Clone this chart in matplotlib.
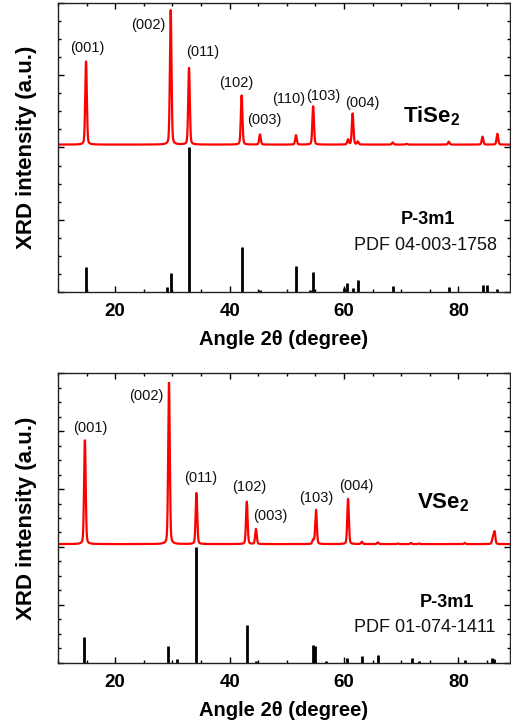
import numpy as np
import matplotlib
matplotlib.use('Agg')
import matplotlib.pyplot as plt
from matplotlib.ticker import MultipleLocator

plt.rcParams['font.family'] = ['Liberation Sans', 'DejaVu Sans']
plt.rcParams['mathtext.fontset'] = 'custom'
plt.rcParams['mathtext.rm'] = 'Liberation Sans'
plt.rcParams['mathtext.bf'] = 'Liberation Sans:bold'

# --- TiSe2: measured pattern (peak angle, peak top in axis units) ---
tise2_base = 2.04
tise2_pos = [14.9, 29.7, 32.9, 42.1, 45.3, 51.6, 54.6, 60.7, 61.5, 62.4, 68.5, 70.9, 78.3, 84.2, 86.8]
tise2_top = [3.19, 3.90, 3.10, 2.72, 2.18, 2.17, 2.57, 2.11, 2.47, 2.08, 2.07, 2.05, 2.08, 2.15, 2.19]
# reference card PDF 04-003-1758
tise2_ref_pos = [14.9, 29.0, 29.7, 32.9, 42.1, 45.3, 51.6, 54.1, 54.6, 60.0, 60.6, 61.5, 62.4,
                 68.5, 78.3, 84.2, 84.9, 86.8]
tise2_ref_int = [0.35, 0.07, 0.26, 2.0, 0.62, 0.03, 0.36, 0.03, 0.27, 0.05, 0.12, 0.05, 0.17,
                 0.08, 0.07, 0.09, 0.09, 0.04]
tise2_hkl = ['(001)', '(002)', '(011)', '(102)', '(003)', '(110)', '(103)', '(004)']

# --- VSe2 ---
vse2_base = 2.05
vse2_pos = [14.7, 29.4, 34.2, 43.0, 44.6, 54.6, 55.1, 60.7, 63.1, 65.9, 69.4, 71.7, 73.1, 81.1, 86.0, 86.3]
vse2_top = [3.84, 4.83, 2.93, 2.78, 2.31, 2.12, 2.64, 2.83, 2.09, 2.08, 2.06, 2.07, 2.06, 2.07, 2.15, 2.26]
# reference card PDF 01-074-1411
vse2_ref_pos = [14.6, 29.2, 30.8, 34.2, 43.0, 44.6, 54.6, 55.0, 56.8, 60.6, 63.1, 65.9,
                71.8, 73.1, 81.1, 85.9, 86.2]
vse2_ref_int = [0.45, 0.29, 0.07, 2.0, 0.66, 0.04, 0.31, 0.29, 0.03, 0.09, 0.12, 0.14,
                0.09, 0.03, 0.05, 0.09, 0.07]
vse2_hkl = ['(001)', '(002)', '(011)', '(102)', '(003)', '(103)', '(004)']

# label placements (angle, y) for the hkl tags
tise2_lbl_xy = [(15.1, 3.37), (25.7, 3.69), (35.3, 3.32), (41.1, 2.89), (46.0, 2.38),
                (50.3, 2.67), (56.3, 2.71), (63.2, 2.61)]
vse2_lbl_xy = [(15.6, 4.05), (25.4, 4.60), (35.0, 3.19), (43.4, 3.03), (47.1, 2.53),
               (55.1, 2.84), (62.2, 3.05)]


def profile(x, pos, top, base, w=0.14):
    y = np.full_like(x, base)
    for p, t in zip(pos, top):
        h = t - base
        g = np.exp(-0.5 * ((x - p) / w) ** 2)
        l = 1.0 / (1.0 + ((x - p) / (1.2 * w)) ** 2)
        y += h * (0.75 * g + 0.25 * l)
    return y


def panel(ax, pos, top, base, ref_pos, ref_int, hkl, lbl_xy, ymax,
          name, name_xy, card, sg_xy, card_xy):
    x = np.arange(10, 89.01, 0.02)
    ax.plot(x, profile(x, pos, top, base), color='red', lw=1.6)
    ax.vlines(ref_pos, 0, ref_int, color='black', lw=2)
    for t, (lx, ly) in zip(hkl, lbl_xy):
        ax.text(lx, ly, t, fontsize=10.5, ha='center', va='center', color='#111111')
    ax.text(name_xy[0], name_xy[1], name, fontsize=16, fontweight='bold',
            ha='center', va='center')
    ax.text(sg_xy[0], sg_xy[1], 'P-3m1', fontsize=13, fontweight='bold',
            ha='center', va='center')
    ax.text(card_xy[0], card_xy[1], card, fontsize=13, ha='center', va='center',
            color='#111111')
    ax.set_xlim(10, 89)
    ax.set_ylim(0, ymax)
    ax.xaxis.set_major_locator(MultipleLocator(20))
    ax.xaxis.set_minor_locator(MultipleLocator(5))
    ax.yaxis.set_major_locator(MultipleLocator(1))
    ax.yaxis.set_minor_locator(MultipleLocator(0.25))
    ax.tick_params(which='both', direction='in', top=True, right=True, width=1)
    ax.tick_params(which='major', length=4.5)
    ax.tick_params(which='minor', length=2.5)
    ax.tick_params(axis='y', labelleft=False)
    ax.tick_params(axis='x', labelsize=13.5, pad=8)
    for lab in ax.get_xticklabels():
        lab.set_fontweight('bold')
    for s in ax.spines.values():
        s.set_linewidth(1.0)
        s.set_color('#222222')
    ax.set_xlabel('Angle 2\u03b8 (degree)', fontsize=14.5, fontweight='bold', labelpad=7)
    ax.set_ylabel('XRD intensity (a.u.)', fontsize=16, fontweight='bold', labelpad=12)


fig = plt.figure(figsize=(5.11, 7.26), dpi=100)
ax1 = fig.add_axes([0.1135, 0.5978, 0.8845, 0.3981])
ax2 = fig.add_axes([0.1135, 0.0868, 0.8845, 0.3994])

panel(ax1, tise2_pos, tise2_top, tise2_base, tise2_ref_pos, tise2_ref_int, tise2_hkl,
      tise2_lbl_xy, 4, r'TiSe$_\mathbf{2}$', (75.3, 2.43), 'PDF 04-003-1758',
      (74.6, 1.0), (74.3, 0.64))
panel(ax2, vse2_pos, vse2_top, vse2_base, vse2_ref_pos, vse2_ref_int, vse2_hkl,
      vse2_lbl_xy, 5, r'VSe$_\mathbf{2}$', (77.3, 2.76), 'PDF 01-074-1411',
      (77.9, 1.05), (74.1, 0.62))

fig.savefig('out.png', dpi=100)
